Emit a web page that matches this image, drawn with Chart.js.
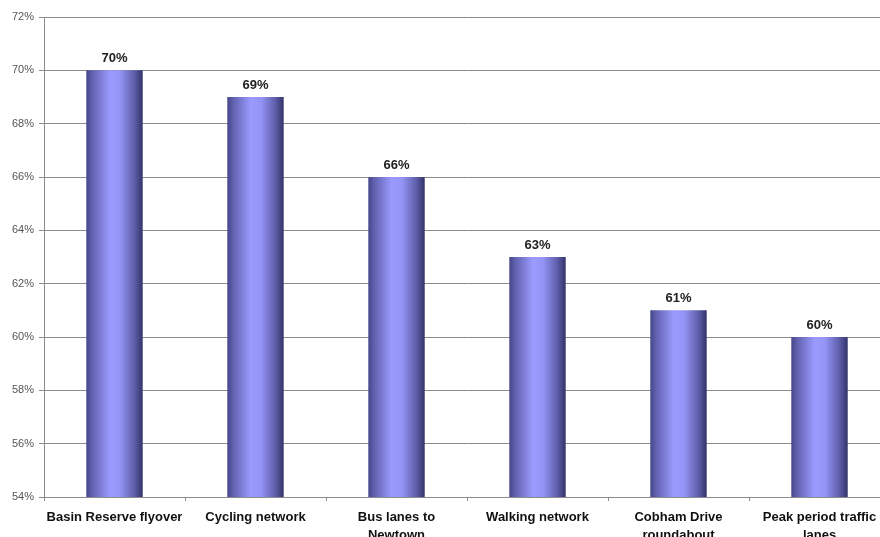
<!DOCTYPE html>
<html>
<head>
<meta charset="utf-8">
<script src="https://cdn.jsdelivr.net/npm/chart.js@4"></script>
<style>
html,body{margin:0;padding:0;background:#fff;overflow:hidden;}
#wrap{width:892px;height:537px;position:relative;}
</style>
</head>
<body>
<div id="wrap"><canvas id="c" width="892" height="537"></canvas></div>
<script>
const categories = [
  "Basin Reserve flyover",
  "Cycling network",
  ["Bus lanes to", "Newtown"],
  "Walking network",
  ["Cobham Drive", "roundabout"],
  ["Peak period traffic", "lanes"]
];
const values = [70, 69, 66, 63, 61, 60];
const yMin = 54, yMax = 72, yStep = 2;

function barGradient(ctx) {
  const chart = ctx.chart;
  const xs = chart.scales && chart.scales.x;
  if (!chart.chartArea || !xs) return '#8888ee';
  const cx = xs.getPixelForValue(ctx.dataIndex);
  const w = (xs.width / categories.length) * 0.4;
  const g = chart.ctx.createLinearGradient(cx - w / 2, 0, cx + w / 2, 0);
  g.addColorStop(0, '#46468a');
  g.addColorStop(0.12, '#6464b4');
  g.addColorStop(0.42, '#9b9bff');
  g.addColorStop(0.6, '#9494f6');
  g.addColorStop(0.85, '#5e5eaa');
  g.addColorStop(1, '#33336a');
  return g;
}

const labelPlugin = {
  id: 'valueLabels',
  afterDatasetsDraw(chart) {
    const c = chart.ctx;
    const meta = chart.getDatasetMeta(0);
    c.save();
    c.font = 'bold 13px "Liberation Sans", Arial, sans-serif';
    c.fillStyle = '#222';
    c.textAlign = 'center';
    c.textBaseline = 'bottom';
    meta.data.forEach((bar, i) => {
      c.fillText(values[i] + '%', bar.x, bar.y - 5);
    });
    c.restore();
  }
};

new Chart(document.getElementById('c'), {
  type: 'bar',
  data: {
    labels: categories,
    datasets: [{
      data: values,
      backgroundColor: barGradient,
      borderWidth: 0,
      barPercentage: 0.4,
      categoryPercentage: 1.0
    }]
  },
  options: {
    responsive: false,
    animation: false,
    devicePixelRatio: 1,
    layout: { padding: { top: 17, right: 2, left: 0, bottom: 0 } },
    plugins: { legend: { display: false }, tooltip: { enabled: false } },
    scales: {
      y: {
        min: yMin, max: yMax,
        afterFit(s) { s.width = 44; },
        ticks: {
          stepSize: yStep,
          callback: v => v + '%',
          color: '#555',
          font: { family: '"Liberation Sans", Arial, sans-serif', size: 11 },
          padding: 5
        },
        grid: { color: '#8c8c8c', lineWidth: 1, tickLength: 5, drawTicks: true },
        border: { color: '#8c8c8c', width: 1 }
      },
      x: {
        afterFit(s) { s.height = 40; },
        ticks: {
          color: '#111',
          font: { family: '"Liberation Sans", Arial, sans-serif', size: 13, weight: 'bold', lineHeight: 1.35 },
          padding: 8,
          maxRotation: 0,
          autoSkip: false
        },
        grid: { display: true, drawOnChartArea: false, offset: true, tickLength: 4, color: '#8c8c8c' },
        border: { color: '#8c8c8c', width: 1 }
      }
    }
  },
  plugins: [labelPlugin]
});
</script>
</body>
</html>
